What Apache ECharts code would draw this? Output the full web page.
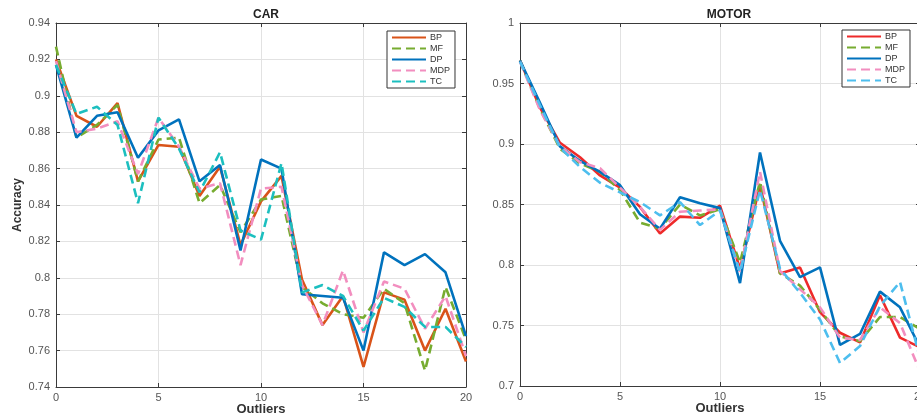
<!DOCTYPE html>
<html>
<head>
<meta charset="utf-8">
<script src="https://cdn.jsdelivr.net/npm/echarts@6/dist/echarts.min.js"></script>
<style>
  html, body { margin: 0; padding: 0; background: #fff; }
  #chart { width: 917px; height: 417px; }
</style>
</head>
<body>
<div id="chart"></div>
<script>
// x values (number of outliers)
const outliers = [0, 1, 2, 3, 4, 5, 6, 7, 8, 9, 10, 11, 12, 13, 14, 15, 16, 17, 18, 19, 20];
const methods = ['BP', 'MF', 'DP', 'MDP', 'TC'];

// CAR accuracy
const carBP  = [0.920, 0.889, 0.883, 0.896, 0.853, 0.873, 0.872, 0.845, 0.861, 0.818, 0.842, 0.856, 0.799, 0.774, 0.790, 0.751, 0.792, 0.788, 0.760, 0.783, 0.754];
const carMF  = [0.927, 0.877, 0.884, 0.895, 0.853, 0.876, 0.877, 0.841, 0.851, 0.825, 0.843, 0.845, 0.795, 0.786, 0.780, 0.778, 0.794, 0.786, 0.749, 0.795, 0.766];
const carDP  = [0.917, 0.877, 0.889, 0.891, 0.866, 0.881, 0.887, 0.853, 0.862, 0.815, 0.865, 0.860, 0.791, 0.790, 0.789, 0.760, 0.814, 0.807, 0.813, 0.803, 0.768];
const carMDP = [0.919, 0.880, 0.882, 0.886, 0.857, 0.888, 0.872, 0.849, 0.852, 0.807, 0.849, 0.850, 0.796, 0.774, 0.804, 0.770, 0.798, 0.794, 0.772, 0.790, 0.757];
const carTC  = [0.917, 0.890, 0.894, 0.884, 0.841, 0.888, 0.871, 0.847, 0.869, 0.826, 0.821, 0.863, 0.792, 0.796, 0.790, 0.771, 0.789, 0.784, 0.773, 0.773, 0.762];

// MOTOR accuracy
const motorBP  = [0.969, 0.930, 0.901, 0.889, 0.874, 0.864, 0.848, 0.826, 0.840, 0.839, 0.849, 0.797, 0.866, 0.793, 0.798, 0.761, 0.744, 0.736, 0.775, 0.740, 0.732];
const motorMF  = [0.969, 0.929, 0.896, 0.884, 0.877, 0.862, 0.835, 0.830, 0.850, 0.841, 0.846, 0.802, 0.869, 0.793, 0.783, 0.763, 0.741, 0.737, 0.757, 0.757, 0.747];
const motorDP  = [0.969, 0.934, 0.898, 0.886, 0.877, 0.866, 0.842, 0.830, 0.856, 0.851, 0.847, 0.785, 0.893, 0.820, 0.790, 0.798, 0.734, 0.743, 0.778, 0.765, 0.732];
const motorMDP = [0.968, 0.928, 0.898, 0.885, 0.880, 0.864, 0.848, 0.829, 0.844, 0.845, 0.846, 0.794, 0.877, 0.795, 0.780, 0.765, 0.740, 0.738, 0.765, 0.752, 0.712];
const motorTC  = [0.968, 0.932, 0.897, 0.881, 0.868, 0.860, 0.852, 0.841, 0.852, 0.833, 0.845, 0.794, 0.862, 0.797, 0.777, 0.755, 0.719, 0.733, 0.766, 0.786, 0.723];

const carColors   = ['#D95319', '#77AC30', '#0072BD', '#F28EBF', '#1CBFBF'];
const motorColors = ['#EE2A2A', '#77AC30', '#0072BD', '#F28EBF', '#4DBEEE'];
const dashed = [false, true, false, true, true];

const FONT = '"Liberation Sans", Arial, Helvetica, sans-serif';
const AXIS_COLOR = '#3a3a3a';
const LABEL_COLOR = '#555';
const GRID_COLOR = '#e2e2e2';

function cleanNum(v) { return String(parseFloat(v.toFixed(3))); }

function mkSeries(prefix, rows, colors, axisIdx) {
  return rows.map((vals, i) => ({
    name: prefix + methods[i],
    type: 'line',
    xAxisIndex: axisIdx,
    yAxisIndex: axisIdx,
    data: outliers.map((x, k) => [x, vals[k]]),
    symbol: 'none',
    silent: true,
    clip: false,
    lineStyle: { color: colors[i], width: 2.6, type: dashed[i] ? [9, 5] : 'solid' },
    itemStyle: { color: colors[i] }
  }));
}

function xAxes(gridIndex) {
  return [
    {
      type: 'value', gridIndex, position: 'bottom', min: 0, max: 20, interval: 5,
      name: 'Outliers', nameLocation: 'middle', nameGap: 16, nameMoveOverlap: false,
      nameTextStyle: { fontFamily: FONT, fontWeight: 'bold', fontSize: 13, color: '#333' },
      axisLine: { show: true, lineStyle: { color: AXIS_COLOR, width: 1 } },
      axisTick: { show: true, inside: true, length: 4, lineStyle: { color: AXIS_COLOR } },
      axisLabel: { fontFamily: FONT, fontSize: 11, color: LABEL_COLOR, margin: 5, showMaxLabel: true, showMinLabel: true },
      splitLine: { show: true, lineStyle: { color: GRID_COLOR, width: 1 } }
    },
    {
      type: 'value', gridIndex, position: 'top', min: 0, max: 20, interval: 5,
      axisLine: { show: true, onZero: false, lineStyle: { color: AXIS_COLOR, width: 1 } },
      axisTick: { show: true, inside: true, length: 4, lineStyle: { color: AXIS_COLOR } },
      axisLabel: { show: false },
      splitLine: { show: false }
    }
  ];
}

function yAxes(gridIndex, min, max, interval, name) {
  return [
    {
      type: 'value', gridIndex, position: 'left', min, max, interval,
      name: name, nameLocation: 'middle', nameGap: 32, nameRotate: 90,
      nameTextStyle: { fontFamily: FONT, fontWeight: 'bold', fontSize: 12, color: '#333' },
      axisLine: { show: true, onZero: false, lineStyle: { color: AXIS_COLOR, width: 1 } },
      axisTick: { show: true, inside: true, length: 4, lineStyle: { color: AXIS_COLOR } },
      axisLabel: { fontFamily: FONT, fontSize: 11, color: LABEL_COLOR, margin: 6, formatter: cleanNum },
      splitLine: { show: true, lineStyle: { color: GRID_COLOR, width: 1 } }
    },
    {
      type: 'value', gridIndex, position: 'right', min, max, interval,
      axisLine: { show: true, onZero: false, lineStyle: { color: AXIS_COLOR, width: 1 } },
      axisTick: { show: true, inside: true, length: 4, lineStyle: { color: AXIS_COLOR } },
      axisLabel: { show: false },
      splitLine: { show: false }
    }
  ];
}

function mkLegend(prefix, left, top) {
  return {
    left, top,
    orient: 'vertical',
    data: methods.map(m => prefix + m),
    formatter: n => n.slice(prefix.length),
    itemWidth: 34, itemHeight: 8, itemGap: 2,
    padding: [2, 5, 2, 4],
    borderColor: '#333', borderWidth: 1, backgroundColor: '#fff',
    borderRadius: 0,
    selectedMode: false,
    itemStyle: { opacity: 0, borderWidth: 0 },
    textStyle: { fontFamily: FONT, fontSize: 9, color: '#333', lineHeight: 8, padding: [0, 0, 0, -1] }
  };
}

const chart = echarts.init(document.getElementById('chart'), null, { renderer: 'canvas' });

chart.setOption({
  backgroundColor: '#fff',
  animation: false,
  textStyle: { fontFamily: FONT },
  title: [
    { text: 'CAR', left: 261, top: 4, textAlign: 'center',
      textStyle: { fontFamily: FONT, fontWeight: 'bold', fontSize: 12, color: '#222' } },
    { text: 'MOTOR', left: 724, top: 4, textAlign: 'center',
      textStyle: { fontFamily: FONT, fontWeight: 'bold', fontSize: 12, color: '#222' } }
  ],
  legend: [mkLegend('CAR ', 387, 31), mkLegend('MOTOR ', 842, 30)],
  grid: [
    { left: 56, top: 23, width: 410, height: 364, outerBoundsMode: 'none' },
    { left: 520, top: 23, width: 400, height: 363, outerBoundsMode: 'none' }
  ],
  xAxis: [...xAxes(0), ...xAxes(1)],
  yAxis: [...yAxes(0, 0.74, 0.94, 0.02, 'Accuracy'), ...yAxes(1, 0.7, 1, 0.05, '')],
  series: [
    ...mkSeries('CAR ', [carBP, carMF, carDP, carMDP, carTC], carColors, 0),
    ...mkSeries('MOTOR ', [motorBP, motorMF, motorDP, motorMDP, motorTC], motorColors, 2)
  ]
});

window.addEventListener('resize', () => chart.resize());
</script>
</body>
</html>
